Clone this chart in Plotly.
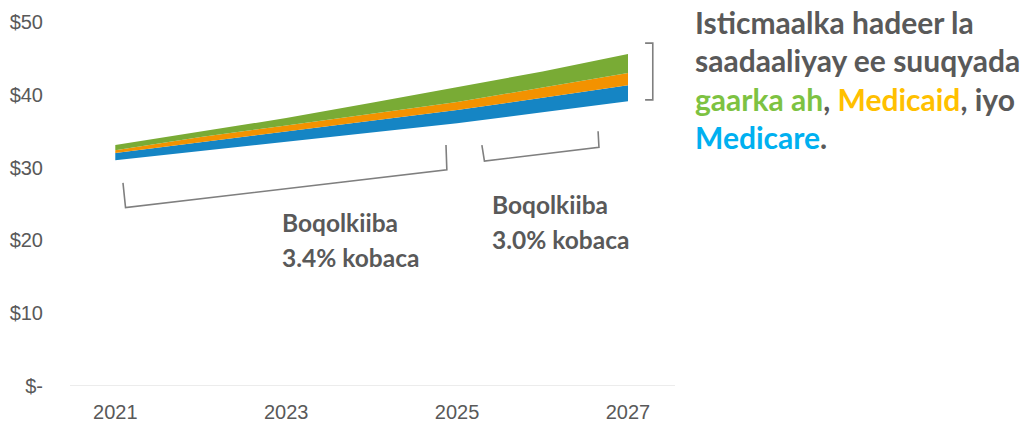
import plotly.graph_objects as go

years = [2021, 2022, 2023, 2024, 2025, 2026, 2027]
base = [31.0, 32.3, 33.5, 34.8, 36.1, 37.6, 39.1]
medicare = [1.0, 1.2, 1.4, 1.6, 1.8, 2.0, 2.2]
medicaid = [0.4, 0.7, 0.9, 1.0, 1.1, 1.4, 1.7]
private = [0.7, 0.7, 1.0, 1.5, 2.0, 2.2, 2.6]

y_ticks = [0, 10, 20, 30, 40, 50]
y_labels = ["$-", "$10", "$20", "$30", "$40", "$50"]
x_ticks = [2021, 2023, 2025, 2027]

BLUE = "#1585c4"
ORANGE = "#f39200"
GREEN = "#79ab35"
GRAY = "#595959"

fig = go.Figure()
fig.add_trace(go.Scatter(x=years, y=base, stackgroup="one", mode="lines",
                         line=dict(width=0, color="rgba(0,0,0,0)"),
                         fillcolor="rgba(0,0,0,0)", hoverinfo="skip", showlegend=False))
for vals, col, name in [(medicare, BLUE, "Medicare"), (medicaid, ORANGE, "Medicaid"),
                        (private, GREEN, "Private")]:
    fig.add_trace(go.Scatter(x=years, y=vals, stackgroup="one", mode="lines",
                             line=dict(width=0, color=col), fillcolor=col,
                             name=name, showlegend=False))

bracket_col = "#7f7f7f"
brackets = [
    [(2021.09, 27.9), (2021.12, 24.5), (2024.88, 29.7), (2024.87, 33.1)],
    [(2025.29, 33.1), (2025.32, 30.9), (2026.66, 32.8), (2026.65, 35.0)],
    [(2027.2, 47.1), (2027.29, 47.1), (2027.29, 39.3), (2027.2, 39.3)],
]
for pts in brackets:
    path = "M " + " L ".join(f"{x},{y}" for x, y in pts)
    fig.add_shape(type="path", path=path, xref="x", yref="y",
                  line=dict(color=bracket_col, width=1.6))

font_b = "Lato, Open Sans, sans-serif"
growth_labels = [
    (2022.93, 22.4, "Boqolkiiba"), (2022.93, 17.6, "3.4% kobaca"),
    (2025.39, 24.9, "Boqolkiiba"), (2025.39, 20.1, "3.0% kobaca"),
]
for gx, gy, txt in growth_labels:
    fig.add_annotation(x=gx, y=gy, xref="x", yref="y", xanchor="left", yanchor="middle",
                       text=f"<b>{txt}</b>", showarrow=False, align="left",
                       font=dict(family=font_b, size=24.5, color=GRAY))

side_lines = [
    "Isticmaalka hadeer la",
    "saadaaliyay ee suuqyada",
    "<span style='color:#7dc242'>gaarka ah</span>, "
    "<span style='color:#ffc000'>Medicaid</span>, iyo",
    "<span style='color:#00b0f0'>Medicare</span>.",
]
for i, line in enumerate(side_lines):
    fig.add_annotation(x=1.031, y=1.0 - (i * 38.3) / 364, xref="paper", yref="paper",
                       xanchor="left", yanchor="middle", text=f"<b>{line}</b>",
                       showarrow=False, align="left", borderpad=0,
                       font=dict(family=font_b, size=30, color=GRAY))

fig.update_layout(
    width=1026, height=425,
    margin=dict(l=70, r=351, t=22, b=39),
    paper_bgcolor="white", plot_bgcolor="white",
    font=dict(family="Liberation Sans Narrow, Liberation Sans, Arial, sans-serif", color=GRAY),
)
fig.update_xaxes(range=[2020.47, 2027.55], tickvals=x_ticks, ticktext=[str(t) for t in x_ticks],
                 showgrid=False, zeroline=False, showline=False, ticks="", automargin=False,
                 ticklabelstandoff=12, tickfont=dict(size=20, color=GRAY))
fig.update_yaxes(range=[0, 50], tickvals=y_ticks, ticktext=y_labels, showgrid=False,
                 zeroline=False, showline=False, ticks="", automargin=False,
                 ticklabelstandoff=26, tickfont=dict(size=20, color=GRAY))
fig.add_shape(type="line", xref="paper", yref="y", x0=0, x1=1, y0=0, y1=0,
              line=dict(color="#d9d9d9", width=1), layer="below")

fig.write_html("out.html", config={"displayModeBar": False},
               post_script="document.body.style.margin='0';")
